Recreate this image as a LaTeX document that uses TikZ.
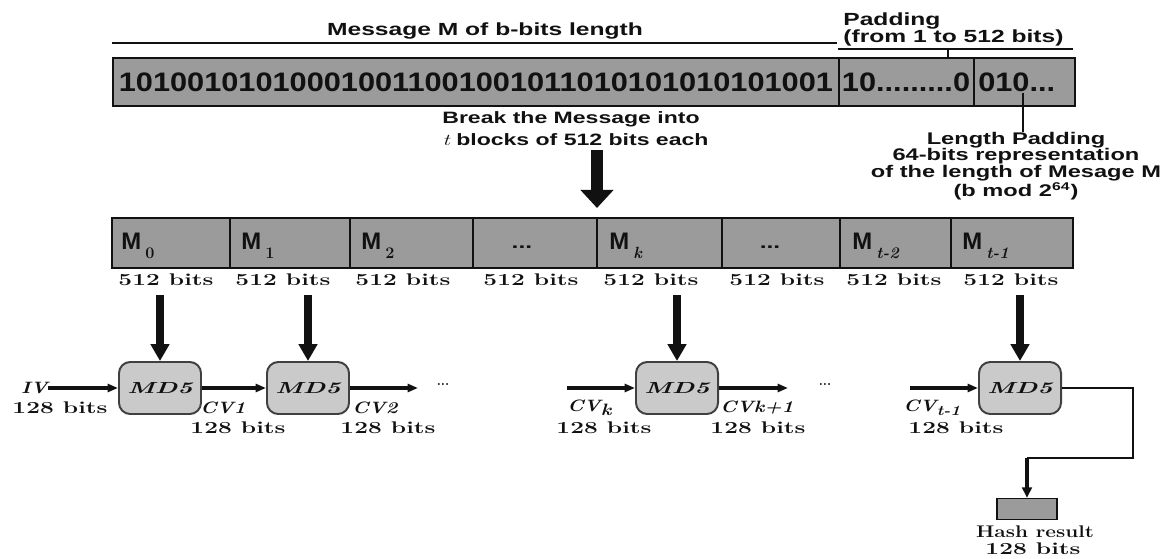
\documentclass[tikz,border=0pt]{standalone}
\usepackage{fontspec}
\usepackage{graphicx}
\usetikzlibrary{arrows.meta,positioning}
\newfontfamily\helv{Liberation Sans}
\definecolor{mdInk}{HTML}{111111}
\definecolor{mdBar}{HTML}{9B9B9B}
\definecolor{mdRound}{HTML}{CACACA}
\definecolor{mdEdge}{HTML}{404040}
\newcommand\blk[1]{{\helv\bfseries M}\kern3pt\raisebox{-7pt}{\fontsize{11.5}{12}\selectfont\bfseries #1}}
\newcommand\mdfive{\scalebox{1.6}[1]{MD5}}
\tikzset{
  every node/.style={inner sep=0pt, text=mdInk},
  sans text/.style={font=\helv\bfseries\fontsize{12.5}{16}\selectfont, xscale=1.4},
  bit text/.style={font=\helv\bfseries\fontsize{19}{22}\selectfont, xscale=1.15},
  size text/.style={font=\bfseries\fontsize{12}{14}\selectfont, xscale=1.45},
  cv text/.style={font=\bfseries\itshape\fontsize{11.7}{14}\selectfont, xscale=1.2},
  blk text/.style={font=\fontsize{17}{19}\selectfont},
  md bar/.style={draw=mdInk, line width=1.4pt, fill=mdBar},
  md cut/.style={draw=mdInk, line width=1.1pt},
  md rule/.style={draw=mdInk, line width=0.8pt},
  md round/.style={draw=mdEdge, line width=1.4pt, fill=mdRound, rounded corners=8pt,
    minimum width=2.05cm, minimum height=1.3cm,
    font=\bfseries\itshape\fontsize{11.4}{14}\selectfont},
  hash box/.style={draw=mdInk, line width=1.1pt, fill=mdBar,
    minimum width=1.5cm, minimum height=0.52cm},
  split arrow/.style={-{Triangle[length=4.5mm,width=8mm]}, line width=3mm, draw=mdInk},
  feed arrow/.style={-{Triangle[length=4.2mm,width=4.5mm]}, line width=2mm,
    draw=mdInk, shorten <=2.2mm},
  chain arrow/.style={-{Triangle[length=2.6mm,width=2mm]}, line width=1mm, draw=mdInk},
  drop arrow/.style={-{Triangle[length=2.6mm,width=2.4mm]}, line width=1mm, draw=mdInk}
}
\begin{document}
\begin{tikzpicture}[x=0.025cm,y=-0.025cm]
  \useasboundingbox (0,0) rectangle (1166,559);
  % message with its padding
  \node[sans text] (msgtitle) at (485,31) {Message M of b-bits length};
  \node[sans text,anchor=west] (padtitle) at (843,21) {Padding};
  \node[sans text,anchor=west] (padrange) at (843,38) {(from 1 to 512 bits)};
  \draw[md rule] (112,43) -- (837,43);
  \draw[md rule] (838,49) -- (1073,49) (948,49) -- (948,58);
  \draw[md bar] (113,58) rectangle (1075,106);
  \draw[md cut] (839,58) -- (839,106) (974,58) -- (974,106);
  \node[bit text] (msgbits) at (476,82) {101001010100010011001001011010101010101001};
  \node[bit text] (padbits) at (906,82) {10.........0};
  \node[bit text,anchor=west] (lenbits) at (978,82) {010...};
  \node[sans text,align=center,font=\helv\bfseries\fontsize{12}{11.6}\selectfont] (lenpad) at (1016,166)
    {Length Padding\\64-bits representation\\of the length of Mesage M\\(b mod 2\textsuperscript{64})};
  \coordinate (lenmark) at (1023,93);
  \draw[md rule] (lenmark) -- (lenmark |- lenpad.north);
  \node[sans text,anchor=west,align=left,font=\helv\bfseries\fontsize{11.7}{15.6}\selectfont] (breaktxt) at (442,129)
    {Break the Message into\\{\normalfont\itshape t} blocks of 512 bits each};
  \coordinate (splittop) at (597,150);
  \coordinate (splitend) at (597,208);
  \draw[split arrow] (splittop) -- (splitend);
  % the t blocks
  \draw[md bar] (112,218) rectangle (1073,268);
  \foreach \x in {230,350,473,597,722,840,951}
    \draw[md cut] (\x,218) -- (\x,268);
  \node[blk text,anchor=base west] (m0) at (121,249) {\blk{0}};
  \node[blk text,anchor=base west] (m1) at (241,249) {\blk{1}};
  \node[blk text,anchor=base west] (m2) at (361,249) {\blk{2}};
  \node[sans text] (mdots1) at (522,247) {...};
  \node[blk text,anchor=base west] (mk) at (609,249) {\blk{\itshape k}};
  \node[sans text] (mdots2) at (770,247) {...};
  \node[blk text,anchor=base west] (mt2) at (852,249) {\blk{\itshape t-2}};
  \node[blk text,anchor=base west] (mt1) at (962,249) {\blk{\itshape t-1}};
  \node[size text] (b0) at (166,280) {512 bits};
  \node[size text] (b1) at (283,280) {512 bits};
  \node[size text] (b2) at (403,280) {512 bits};
  \node[size text] (b3) at (531,280) {512 bits};
  \node[size text] (b4) at (651,280) {512 bits};
  \node[size text] (b5) at (777,280) {512 bits};
  \node[size text] (b6) at (894,280) {512 bits};
  \node[size text] (b7) at (1011,280) {512 bits};
  % compression chain
  \node[md round] (md0) at (160,388) {\mdfive};
  \node[md round] (md1) at (308,388) {\mdfive};
  \node[md round] (mdk) at (677,388) {\mdfive};
  \node[md round] (mdt) at (1020,388) {\mdfive};
  \draw[feed arrow] (md0.north |- b0.south) -- (md0.north);
  \draw[feed arrow] (md1.north |- b1.south) -- (md1.north);
  \draw[feed arrow] (mdk.north |- b4.south) -- (mdk.north);
  \draw[feed arrow] (mdt.north |- b7.south) -- (mdt.north);
  \node[cv text,anchor=east] (iv) at (48,388) {IV};
  \node[size text] (ivbits) at (60,408) {128 bits};
  \draw[chain arrow] (iv.east) -- (md0.west);
  \draw[chain arrow] (md0.east) -- (md1.west);
  \node[cv text,anchor=west] (cv1) at (200,408) {CV1};
  \node[size text] (cv1bits) at (238,428) {128 bits};
  \coordinate (gap1) at (418,388);
  \draw[chain arrow] (md1.east) -- (gap1);
  \node[font=\bfseries\fontsize{9}{10}\selectfont] (dots1) at (443,385) {...};
  \node[cv text,anchor=west] (cv2) at (352,408) {CV2};
  \node[size text] (cv2bits) at (388,428) {128 bits};
  \coordinate (feedk) at (567,388);
  \draw[chain arrow] (feedk) -- (mdk.west);
  \node[cv text,anchor=west] (cvk) at (567,408) {CV\raisebox{-3pt}{k}};
  \node[size text] (cvkbits) at (604,428) {128 bits};
  \coordinate (gapk) at (788,388);
  \draw[chain arrow] (mdk.east) -- (gapk);
  \node[font=\bfseries\fontsize{9}{10}\selectfont] (dots2) at (825,385) {...};
  \node[cv text,anchor=west] (cvk1) at (720,408) {CVk+1};
  \node[size text] (cvk1bits) at (758,428) {128 bits};
  \coordinate (feedt) at (910,388);
  \draw[chain arrow] (feedt) -- (mdt.west);
  \node[cv text,anchor=west] (cvt) at (903,408) {CV\raisebox{-3pt}{\fontsize{10}{12}\selectfont t-1}};
  \node[size text] (cvtbits) at (956,428) {128 bits};
  % hash output
  \node[hash box] (hash) at (1027,509) {};
  \coordinate (corner) at (1133,458);
  \coordinate (turn) at (1027,458);
  \draw[line width=1.1pt,draw=mdInk] (mdt.east) -| (corner) -- (turn);
  \draw[drop arrow] (turn) -- (hash.north);
  \node[size text,xscale=0.85] (hashtxt) at (1035,532) {Hash result};
  \node[size text] (hashbits) at (1033,549) {128 bits};
\end{tikzpicture}
\end{document}
